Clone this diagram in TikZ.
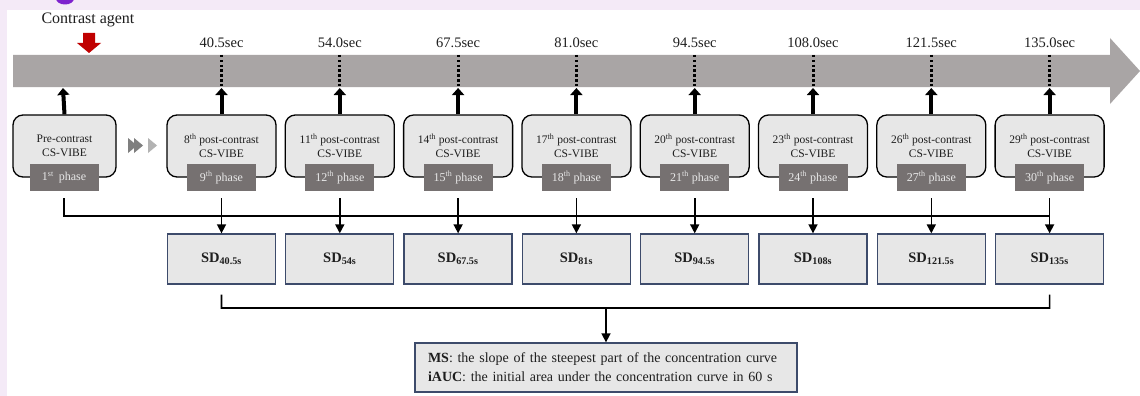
\documentclass[tikz,border=0pt]{standalone}
\usepackage{fontspec}
\setmainfont{Liberation Serif}
\usetikzlibrary{arrows.meta,calc}
\definecolor{bg}{HTML}{F4EAF7}
\definecolor{barcol}{HTML}{A9A5A5}
\definecolor{agent}{HTML}{C00000}
\definecolor{boxfill}{HTML}{E7E7E7}
\definecolor{phasefill}{HTML}{767171}
\definecolor{phasetext}{HTML}{E8E8E8}
\definecolor{sdborder}{HTML}{3D4B6B}
\definecolor{chevdark}{HTML}{7F7F7F}
\definecolor{chevlight}{HTML}{B3B3B3}
\definecolor{titlepurple}{HTML}{7E22CE}
\definecolor{txt}{HTML}{1E1E1E}
\begin{document}
\begin{tikzpicture}[x=1pt,y=-1pt,
  scanbox/.style={draw=black,line width=1.3pt,fill=boxfill,rounded corners=10pt,minimum width=109pt,minimum height=62pt,inner sep=0pt,align=center,text=txt,font=\fontsize{11.5}{14}\selectfont},
  phasebox/.style={fill=phasefill,text=phasetext,minimum width=69pt,minimum height=27pt,inner sep=0pt,font=\fontsize{12}{13}\selectfont},
  sdbox/.style={draw=sdborder,line width=1.3pt,fill=boxfill,minimum width=108pt,minimum height=50pt,inner sep=0pt,text=txt,font=\fontsize{14.5}{16}\selectfont\bfseries},
  resbox/.style={draw=sdborder,line width=1.3pt,fill=boxfill,text width=356pt,inner xsep=13pt,minimum height=49pt,align=left,text=txt,font=\fontsize{14}{19}\selectfont},
  timelabel/.style={text=txt,font=\fontsize{14.5}{16}\selectfont},
  dotline/.style={line width=3pt,dash pattern=on 2.5pt off 2.3pt},
  uparrow/.style={line width=4pt,-{Triangle[width=12pt,length=7pt]}},
  conn/.style={line width=1.6pt},
  connarrow/.style={line width=1.6pt,-{Triangle[width=9pt,length=9pt]}},
]
\useasboundingbox (0,0) rectangle (1140,396);
\fill[bg] (0,0) rectangle (1140,396);
\fill[white] (7,10) rectangle (1140,396);
\fill[titlepurple] (65,-1.5) ellipse [x radius=9pt, y radius=6pt];

% contrast agent
\node[text=txt,font=\fontsize{16}{18}\selectfont] (agentlbl) at (88,20) {Contrast agent};
\fill[agent] (83,33) -- (95,33) -- (95,43) -- (101,43) -- (89,53) -- (77,43) -- (83,43) -- cycle;

% time bar
\fill[barcol] (13,55) -- (1110,55) -- (1110,38) -- (1140,71) -- (1110,104) -- (1110,87) -- (13,87) -- cycle;

% pre-contrast
\node[scanbox,minimum width=103pt] (s0) at (64.5,146) {Pre-contrast\\CS-VIBE};
\node[phasebox] (p0) at (64,177.5) {1\textsuperscript{st}\, phase};
\coordinate (b0) at (63,88);
\draw[uparrow] (s0.north) -- (b0);

% chevrons
\fill[chevdark] (128,138) -- (137,145.5) -- (128,153) -- cycle;
\fill[chevdark] (134,138) -- (143,145.5) -- (134,153) -- cycle;
\fill[chevlight] (148,138) -- (157,145.5) -- (148,153) -- cycle;

\foreach \i/\tA/\nA/\pA/\sA in {1/40.5/8/9/40.5,2/54.0/11/12/54,3/67.5/14/15/67.5,4/81.0/17/18/81,5/94.5/20/21/94.5,6/108.0/23/24/108,7/121.5/26/27/121.5,8/135.0/29/30/135}{
  \pgfmathsetmacro\xx{221.5+118.3*(\i-1)}
  \node[timelabel] (t\i) at (\xx,43) {\tA sec};
  \coordinate (dt\i) at (\xx,55);
  \coordinate (db\i) at (\xx,86);
  \draw[dotline] (dt\i) -- (db\i);
  \node[scanbox] (s\i) at (\xx,146) {\nA\textsuperscript{th} post-contrast\\CS-VIBE};
  \node[phasebox] (p\i) at (\xx,177.5) {\pA\textsuperscript{th} phase};
  \coordinate (b\i) at (\xx,88);
  \draw[uparrow] (s\i.north) -- (b\i);
  \node[sdbox] (sd\i) at (\xx,259) {SD\textsubscript{\sA s}};
  \draw[connarrow] ([yshift=-7pt]p\i.south) -- (sd\i.north);
}

% upper bus from pre-contrast
\coordinate (busend) at (1049.6,216);
\draw[conn] ([yshift=-7pt]p0.south) |- (busend);

% lower bus
\coordinate (lb) at (221.5,308);
\coordinate (rb) at (1049.6,308);
\coordinate (mid) at (606,308);
\draw[conn] ([yshift=-10pt]sd1.south) -- (lb) -- (rb) -- ([yshift=-10pt]sd8.south);
\node[resbox] (res) at (606,367.5) {\textbf{MS}: the slope of the steepest part of the concentration curve\\\textbf{iAUC}: the initial area under the concentration curve in 60 s};
\draw[connarrow] (mid) -- (res.north);
\end{tikzpicture}
\end{document}
